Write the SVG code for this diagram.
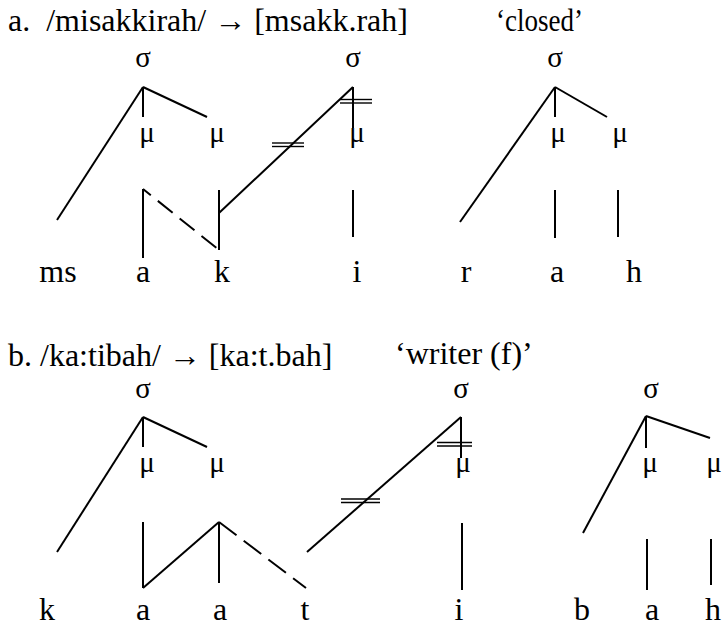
<svg xmlns="http://www.w3.org/2000/svg" width="723" height="626" viewBox="0 0 723 626">
<style>
text{font-family:'Liberation Serif','Times New Roman',serif;fill:#000}
.t{font-size:32px}
.g{font-size:29px;text-anchor:middle}
.s{font-size:32px;text-anchor:middle}
.l line{stroke:#000;stroke-width:2;fill:none}
.l .d{stroke-dasharray:19 9;stroke-dashoffset:9}
.l .d2{stroke-dasharray:22 9}
.l .b{stroke-width:1.4}
</style>
<rect width="723" height="626" fill="#fff"/>
<g id="title-a"><text class="t" x="8" y="31" xml:space="preserve">a.  /misakkirah/ → [msakk.rah]</text><text class="t" x="496" y="31" font-size="31" style="font-size:31px" textLength="87" lengthAdjust="spacingAndGlyphs">‘closed’</text></g>
<g id="title-b"><text class="t" x="8" y="366">b. /ka:tibah/ → [ka:t.bah]</text><text class="t" x="395" y="364">‘writer (f)’</text></g>
<g id="nodes-a">
<text class="g" x="143" y="67">σ</text><text class="g" x="353" y="67">σ</text><text class="g" x="555" y="67">σ</text>
<text class="g" x="147" y="142">μ</text><text class="g" x="217" y="142">μ</text><text class="g" x="357" y="142">μ</text><text class="g" x="558" y="142">μ</text><text class="g" x="620" y="142">μ</text>
<text class="s" x="58" y="282">ms</text><text class="s" x="143" y="282">a</text><text class="s" x="222" y="282">k</text><text class="s" x="357" y="282">i</text><text class="s" x="466" y="282">r</text><text class="s" x="557" y="282">a</text><text class="s" x="634" y="282">h</text>
</g>
<g id="nodes-b">
<text class="g" x="143" y="398">σ</text><text class="g" x="461" y="398">σ</text><text class="g" x="651" y="398">σ</text>
<text class="g" x="147" y="472">μ</text><text class="g" x="217" y="472">μ</text><text class="g" x="463" y="472">μ</text><text class="g" x="650" y="472">μ</text><text class="g" x="714" y="472">μ</text>
<text class="s" x="47" y="620">k</text><text class="s" x="143" y="620">a</text><text class="s" x="220" y="620">a</text><text class="s" x="305" y="620">t</text><text class="s" x="459" y="620">i</text><text class="s" x="582" y="620">b</text><text class="s" x="652" y="620">a</text><text class="s" x="713" y="620">h</text>
</g>
<g id="connectors" class="l">
<line x1="143" y1="87" x2="57" y2="220"/><line x1="143" y1="87" x2="143" y2="117"/><line x1="143" y1="87" x2="207" y2="117"/>
<line x1="143" y1="189" x2="143" y2="258"/><line class="d" x1="143" y1="189" x2="219" y2="250"/>
<line x1="219" y1="190" x2="219" y2="250"/><line x1="219" y1="213" x2="353" y2="87"/>
<line x1="353" y1="87" x2="353" y2="128"/>
<line class="b" x1="340" y1="99.5" x2="372" y2="99.5"/><line class="b" x1="340" y1="103" x2="372" y2="103"/>
<line class="b" x1="272" y1="143" x2="304" y2="143"/><line class="b" x1="272" y1="146.5" x2="304" y2="146.5"/>
<line x1="353" y1="190" x2="353" y2="237"/>
<line x1="555" y1="87" x2="460" y2="222"/><line x1="555" y1="87" x2="555" y2="117"/><line x1="555" y1="87" x2="607" y2="117"/>
<line x1="555" y1="190" x2="555" y2="238"/><line x1="618" y1="190" x2="618" y2="237"/>
<line x1="143" y1="417" x2="57" y2="552"/><line x1="143" y1="417" x2="143" y2="447"/><line x1="143" y1="417" x2="207" y2="447"/>
<line x1="143" y1="522" x2="143" y2="588"/><line x1="143" y1="588" x2="219" y2="522"/><line x1="219" y1="522" x2="219" y2="583"/>
<line class="d2" x1="219" y1="522" x2="306" y2="588"/>
<line x1="307" y1="552" x2="461" y2="417"/><line x1="461" y1="417" x2="461" y2="458"/>
<line class="b" x1="437" y1="442.5" x2="472" y2="442.5"/><line class="b" x1="437" y1="446" x2="472" y2="446"/>
<line class="b" x1="341" y1="499" x2="380" y2="499"/><line class="b" x1="341" y1="502.5" x2="380" y2="502.5"/>
<line x1="462" y1="523" x2="462" y2="590"/>
<line x1="646" y1="416" x2="583" y2="533"/><line x1="646" y1="416" x2="646" y2="448"/><line x1="646" y1="416" x2="710" y2="438"/>
<line x1="647" y1="539" x2="647" y2="590"/><line x1="711" y1="539" x2="711" y2="585"/>
</g>
</svg>
